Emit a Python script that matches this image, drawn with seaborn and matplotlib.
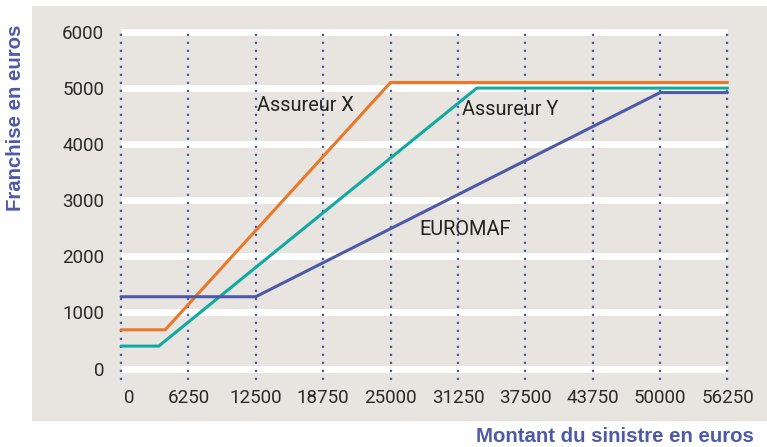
import matplotlib
matplotlib.use("Agg")
import matplotlib.pyplot as plt
import matplotlib.transforms as mtransforms
import seaborn as sns
import pandas as pd
from matplotlib.patches import Rectangle

# ---- data ----
x_ticks = [0, 6250, 12500, 18750, 25000, 31250, 37500, 43750, 50000, 56250]
y_ticks = [0, 1000, 2000, 3000, 4000, 5000, 6000]

assureur_x_montant = [0, 4100, 25000, 56250]
assureur_x_franchise = [690, 690, 5100, 5100]

assureur_y_montant = [0, 3500, 33000, 56250]
assureur_y_franchise = [400, 400, 5000, 5000]

euromaf_montant = [0, 12500, 50000, 56250]
euromaf_franchise = [1280, 1280, 4920, 4920]

series_names = ["Assureur X", "Assureur Y", "EUROMAF"]
series_colors = ["#e8782a", "#10aaa3", "#4d5aaa"]

rows = []
for name, xs, ys in zip(series_names,
                        [assureur_x_montant, assureur_y_montant, euromaf_montant],
                        [assureur_x_franchise, assureur_y_franchise, euromaf_franchise]):
    for xv, yv in zip(xs, ys):
        rows.append({"montant": xv, "franchise": yv, "serie": name})
df = pd.DataFrame(rows)

# ---- figure ----
sns.set_theme(style="white")
plt.rcParams["font.family"] = ["Roboto", "DejaVu Sans"]

W, H = 767, 447
fig = plt.figure(figsize=(W / 100, H / 100), dpi=100)
fig.patch.set_facecolor("white")

# beige panel
fig.patches.append(Rectangle((32 / W, 1 - 421 / H), (W - 32) / W, (421 - 6) / H,
                             transform=fig.transFigure, facecolor="#e8e4df",
                             edgecolor="none", zorder=-5))

ax_left = 121 / W
ax_right = 727.5 / W
ax_bottom = 1 - 380.3 / H
ax_top = 1 - 27.5 / H
ax = fig.add_axes([ax_left, ax_bottom, ax_right - ax_left, ax_top - ax_bottom])
ax.set_zorder(2)
ax.set_facecolor("none")
ax.set_xlim(0, 56250)
ax.set_ylim(-210, 6080)

# white horizontal grid bands
for yv in y_ticks:
    ax.axhline(yv, color="white", lw=5, zorder=1, solid_capstyle="butt")

# dotted vertical lines
for xv in x_ticks:
    ax.axvline(xv, color="#4d5aaa", lw=1.6, linestyle=(0, (1, 2.6)),
               zorder=2, clip_on=False)

sns.lineplot(data=df, x="montant", y="franchise", hue="serie",
             palette=dict(zip(series_names, series_colors)),
             hue_order=series_names, linewidth=2.2, legend=False,
             ax=ax, zorder=3, sort=False)
for ln in ax.get_lines()[-3:]:
    ln.set_clip_on(False)

# annotations
ann_kw = dict(fontsize=14.3, color="#222222", va="baseline", ha="left", zorder=4)
ax.text(12590, 4600, "Assureur X", **ann_kw)
ax.text(31630, 4520, "Assureur Y", **ann_kw)
ax.text(27640, 2380, "EUROMAF", **ann_kw)

ax.set_xticks(x_ticks)
ax.set_xticklabels([str(v) for v in x_ticks])
ax.set_yticks(y_ticks)
ax.set_yticklabels([str(v) for v in y_ticks])
ax.tick_params(axis="both", length=0, labelsize=13.5, labelcolor="#2a2a2a")
ax.tick_params(axis="y", pad=12)
ax.tick_params(axis="x", pad=6)
# first x label sits slightly right of its line
first = ax.get_xticklabels()[0]
first.set_transform(first.get_transform() +
                    mtransforms.ScaledTranslation(8 / 100, 0, fig.dpi_scale_trans))
for sp in ax.spines.values():
    sp.set_visible(False)
ax.set_xlabel("")
ax.set_ylabel("")

lab_font = ["Liberation Sans", "DejaVu Sans"]
fig.text(16 / W, 1 - 118 / H, "Franchise en euros", rotation=90, fontsize=14.7,
         fontweight="bold", color="#4d5aaa", ha="center", va="center", family=lab_font)
fig.text(754 / W, 1 - 437 / H, "Montant du sinistre en euros", fontsize=14.7,
         fontweight="bold", color="#4d5aaa", ha="right", va="center", family=lab_font)

fig.savefig("out.png", dpi=100)
